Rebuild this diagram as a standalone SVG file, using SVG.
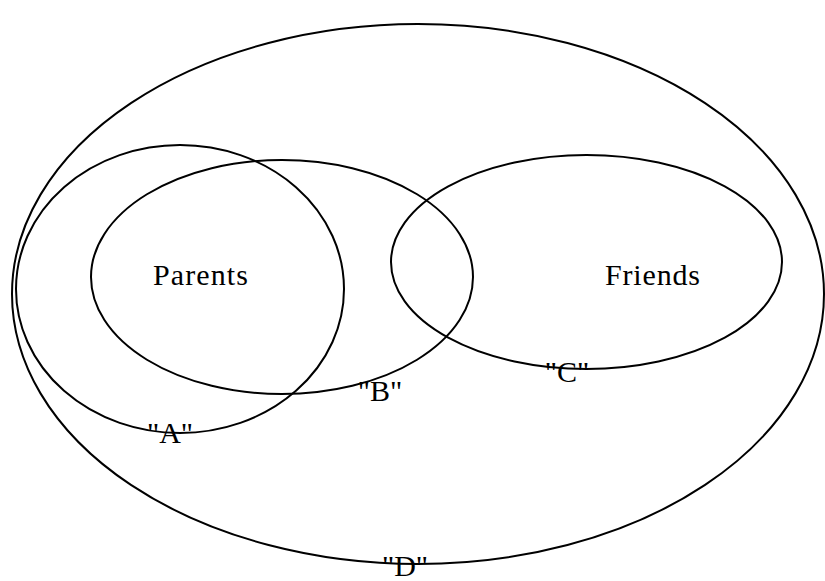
<svg xmlns="http://www.w3.org/2000/svg" width="825" height="581" viewBox="0 0 825 581">
  <style>
    .set { fill: none; stroke: #000; stroke-width: 2; }
    .lbl { font-family: "Liberation Serif", "Times New Roman", serif; font-size: 30px; fill: #000; }
    .mid { text-anchor: middle; }
  </style>
  <rect width="825" height="581" fill="#fff"/>
  <g id="connectors"/>
  <g id="set-D">
    <ellipse class="set" cx="418" cy="294" rx="406" ry="270"/>
    <text class="lbl mid" x="405" y="576">"D"</text>
  </g>
  <g id="set-A">
    <ellipse class="set" cx="180" cy="289" rx="164" ry="144"/>
    <text class="lbl mid" x="170" y="443">"A"</text>
  </g>
  <g id="set-B-parents">
    <ellipse class="set" cx="282" cy="277" rx="191" ry="117"/>
    <text class="lbl" x="153" y="285" textLength="95">Parents</text>
    <text class="lbl mid" x="380" y="401">"B"</text>
  </g>
  <g id="set-C-friends">
    <ellipse class="set" cx="586.5" cy="262" rx="195.5" ry="107"/>
    <text class="lbl" x="605" y="285" textLength="95">Friends</text>
    <text class="lbl mid" x="567" y="382">"C"</text>
  </g>
</svg>
